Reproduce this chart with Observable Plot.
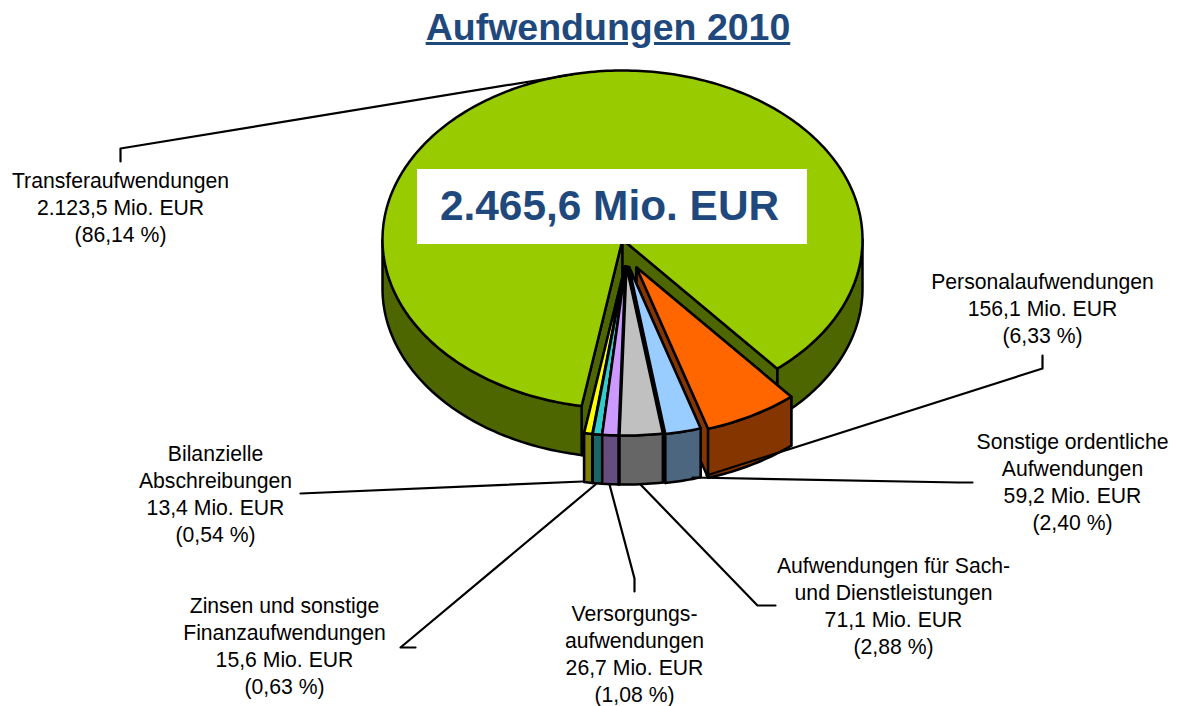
<!DOCTYPE html>
<html lang="de">
<head>
<meta charset="utf-8">
<script src="https://cdn.jsdelivr.net/npm/d3@7"></script>
<script src="https://cdn.jsdelivr.net/npm/@observablehq/plot@0.6"></script>
<style>
html,body{margin:0;padding:0;background:#fff;overflow:hidden}
#title{height:50px;margin:0;font:bold 37.5px "Liberation Sans",Arial,sans-serif;color:#1F497D;text-decoration:underline;text-align:center;width:1216px;line-height:55px}
#chart svg{display:block}
</style>
</head>
<body>
<h1 id="title">Aufwendungen 2010</h1>
<div id="chart"></div>
<script>
// ---- data (clockwise, beginning at the cut on the right side of the big slice)
const names = ["Personalaufwendungen","Sonstige ordentliche\nAufwendungen","Aufwendungen für Sach-\nund Dienstleistungen","Versorgungs-\naufwendungen","Zinsen und sonstige\nFinanzaufwendungen","Bilanzielle\nAbschreibungen","Transferaufwendungen"];
const values = [156.1,59.2,71.1,26.7,15.6,13.4,2123.5];
const valueLabels = ["156,1","59,2","71,1","26,7","15,6","13,4","2.123,5"];
const percentLabels = ["6,33","2,40","2,88","1,08","0,63","0,54","86,14"];
const totalLabel = "2.465,6 Mio. EUR";

// ---- colours
const topColors = ["#FF6600","#99CCFF","#C0C0C0","#CC99FF","#33CCCC","#FFFF00","#99CC00"];
const sideColors = ["#843500","#4D6680","#666666","#664D80","#1A6666","#808000","#4D6600"];

// ---- layout of the tilted pie
const cx = 622, cy = 239, rx = 240, ry = 169, depth = 49, startAngle = 139.85;
const explodeX = [14,6.5,4,3,3,2.5,0];
const explodeY = [28,27.5,27,27,27,27,0];
const drawOrder = [6,0,1,5,4,3,2];
const bigSlice = 6;

// ---- label placement
const labelX = [1042,1072,893,634,284,215,120];
const labelY = [307,480,604,652,644,492,206];
const leaderX = [[1042,1042,706],[972,958,692],[775,757,640],[634,634,609],[415,400,595],[300,582],[120,120,572]];
const leaderY = [[355,368,475],[482,482,477],[605,605,484],[591,578,484],[647,647,484],[493,481],[161,148,74]];

const total = d3.sum(values);
const ends = Array.from(d3.cumsum(values), v => startAngle + v / total * 360);
const starts = [startAngle, ...ends.slice(0, -1)];

const rad = d => d * Math.PI / 180;
const point = (i, a, z = 0) => ({
  x: cx + explodeX[i] + rx * Math.sin(rad(a)),
  y: cy + explodeY[i] + z - ry * Math.cos(rad(a))
});
const apex = (i, z = 0) => ({x: cx + explodeX[i], y: cy + explodeY[i] + z});
const arc = (i, a0, a1, z = 0) => {
  const n = Math.max(2, Math.ceil(Math.abs(a1 - a0)));
  return d3.range(n + 1).map(k => point(i, a0 + (a1 - a0) * k / n, z));
};

// polygons painted back to front
const polygons = [];
let pid = 0;
const add = (pts, fill) => { const id = pid++; pts.forEach(p => polygons.push({...p, id, fill})); };
const addRim = (i, a0, a1) => add([...arc(i, a0, a1), ...arc(i, a1, a0, depth)], sideColors[i]);
const addCut = (i, a) => add([apex(i), point(i, a), point(i, a, depth), apex(i, depth)], sideColors[i]);

for (const i of drawOrder) {
  if (i === bigSlice) {
    // only the rim parts that face the viewer
    addRim(i, 90, starts[i]);
    addRim(i, ends[i] - 360, 270);
  }
  addCut(i, starts[i]);
  addCut(i, ends[i]);
  if (i !== bigSlice) addRim(i, starts[i], ends[i]);
  add([apex(i), ...arc(i, starts[i], ends[i])], topColors[i]);
}

const leaders = leaderX.flatMap((xs, i) => xs.map((x, k) => ({x, y: leaderY[i][k], i})));
const labels = names.map((n, i) => ({
  text: `${n}\n${valueLabels[i]} Mio. EUR\n(${percentLabels[i]} %)`,
  x: labelX[i], y: labelY[i]
}));

const plot = Plot.plot({
  width: 1187, height: 656,
  margin: 0,
  x: {domain: [0, 1187], range: [0, 1187], axis: null},
  y: {domain: [50, 706], range: [0, 656], axis: null},
  color: {type: "identity"},
  style: {background: "#fff"},
  marks: [
    Plot.line(polygons, {x: "x", y: "y", z: "id", fill: "fill", stroke: "#000", strokeWidth: 2.5, curve: "linear-closed", strokeLinejoin: "round"}),
    Plot.line(leaders, {x: "x", y: "y", z: "i", stroke: "#000", strokeWidth: 2.2}),
    Plot.rect([{x1: 417, x2: 807, y1: 169, y2: 244}], {x1: "x1", x2: "x2", y1: "y1", y2: "y2", fill: "#fff"}),
    Plot.text([totalLabel], {x: () => 609, y: () => 206, text: d => d, fontFamily: "Liberation Sans", fontWeight: "bold", fontSize: 42.4, fill: "#1F497D"}),
    Plot.text(labels, {x: "x", y: "y", text: "text", fontFamily: "Liberation Sans", fontSize: 21.2, lineHeight: 1.275, fill: "#000"})
  ]
});
document.getElementById("chart").append(plot);
</script>
</body>
</html>
